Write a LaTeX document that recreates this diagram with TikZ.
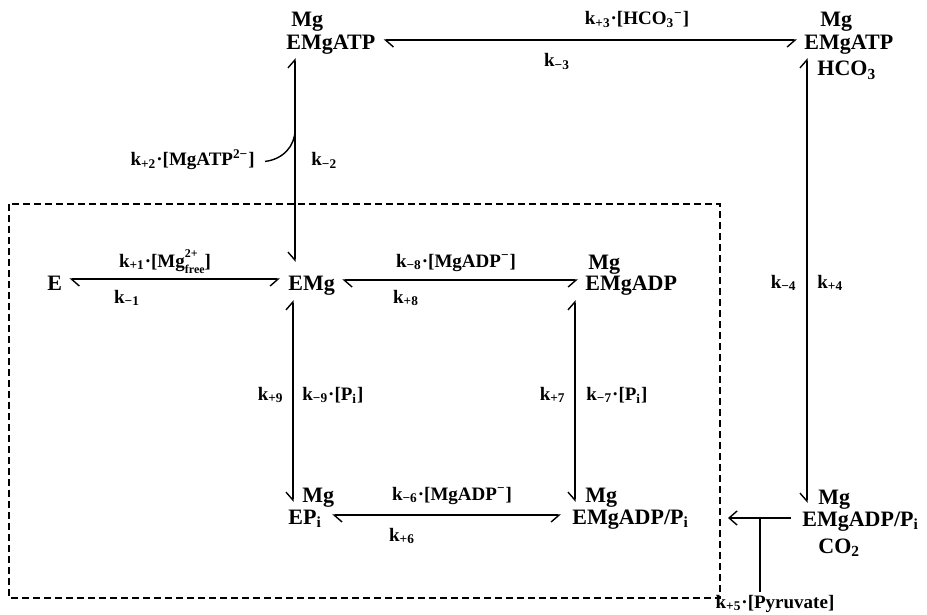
\documentclass[tikz,border=0pt]{standalone}
\usepackage{fontspec}
\setmainfont{Liberation Serif}
\usetikzlibrary{arrows.meta, positioning}

\newcommand{\kr}[1]{k\textsubscript{#1}}
\newcommand{\Pii}{P\textsubscript{i}}
\newcommand{\freemg}{Mg\rlap{\raisebox{1.05ex}{\fontsize{6}{6}\selectfont 2+}}\raisebox{-0.75ex}{\fontsize{6}{6}\selectfont free}}

\begin{document}
\begin{tikzpicture}[
        x=0.5pt, y=-0.5pt,
        every node/.style={inner sep=1pt},
        species/.style={anchor=base west, font=\fontsize{11}{12}\selectfont\bfseries},
        rate/.style={anchor=base, font=\fontsize{9.5}{11}\selectfont\bfseries},
        rxn/.style={{Straight Barb[harpoon,length=4pt,width=7pt]}-{Straight Barb[harpoon,swap,length=4pt,width=7pt]}, line width=0.7pt},
        oneway/.style={-{Straight Barb[length=4pt,width=7pt]}, line width=0.7pt}
    ]
    \useasboundingbox (0,0) rectangle (927,615);

    % the part measured separately
    \draw[line width=1.1pt, dash pattern=on 3.5pt off 2pt] (9,204) rectangle (720,598);

    % species
    \node[species] (atp) at (284,50) {EMgATP};
    \node[species] (atpmg) at (289,27) {Mg};
    \node[species] (atph) at (802,50) {EMgATP};
    \node[species] (atphmg) at (818,27) {Mg};
    \node[species] (atphco) at (815,76) {HCO\textsubscript{3}};
    \node[species] (e) at (45,290) {E};
    \node[species] (emg) at (286,290) {EMg};
    \node[species] (adp) at (583,290) {EMgADP};
    \node[species] (adpmg) at (586,269) {Mg};
    \node[species] (epi) at (286,524) {E\Pii};
    \node[species] (epimg) at (300,502) {Mg};
    \node[species] (adppi) at (570,524) {EMgADP/\Pii};
    \node[species] (adppimg) at (583,502) {Mg};
    \node[species] (adpco) at (800,526) {EMgADP/\Pii};
    \node[species] (adpcomg) at (816,504) {Mg};
    \node[species] (adpcoco) at (816,553) {CO\textsubscript{2}};

    % rate constants
    \node[rate] (k3p) at (637,25) {\kr{+3}·[HCO\textsubscript{3}\textsuperscript{−}]};
    \node[rate] (k3m) at (557,67) {\kr{−3}};
    \node[rate, anchor=base east] (k2p) at (257,166) {\kr{+2}·[MgATP\textsuperscript{2−}]};
    \node[rate, anchor=base west] (k2m) at (309,166) {\kr{−2}};
    \node[rate] (k1p) at (165,267) {\kr{+1}·[\freemg]};
    \node[rate] (k1m) at (127,303) {\kr{−1}};
    \node[rate] (k8m) at (456,267) {\kr{−8}·[MgADP\textsuperscript{−}]};
    \node[rate] (k8p) at (406,303) {\kr{+8}};
    \node[rate, anchor=base east] (k9p) at (286,400) {\kr{+9}};
    \node[rate, anchor=base west] (k9m) at (300,400) {\kr{−9}·[\Pii]};
    \node[rate, anchor=base east] (k7p) at (568,400) {\kr{+7}};
    \node[rate, anchor=base west] (k7m) at (584,400) {\kr{−7}·[\Pii]};
    \node[rate] (k6m) at (452,500) {\kr{−6}·[MgADP\textsuperscript{−}]};
    \node[rate] (k6p) at (402,541) {\kr{+6}};
    \node[rate, anchor=base east] (k4m) at (799,288) {\kr{−4}};
    \node[rate, anchor=base west] (k4p) at (815,288) {\kr{+4}};
    \node[rate] (k5) at (775,608) {\kr{+5}·[Pyruvate]};

    % reactions
    \draw[rxn] ([shift={(6,-10)}]atp.base east) -- ([shift={(-5,-10)}]atph.base west);
    \draw[rxn] ([shift={(11,8)}]atp.base west) -- ([shift={(9,-28)}]emg.base west);
    \draw[rxn] ([shift={(5,-11)}]e.base east) -- ([shift={(-6,-11)}]emg.base west);
    \draw[rxn] ([shift={(5,-10)}]emg.base east) -- ([shift={(-5,-10)}]adp.base west);
    \draw[rxn] ([shift={(7,10)}]emg.base west) -- ([shift={(7,-22)}]epi.base west);
    \draw[rxn] ([shift={(-8,10)}]adp.base west) -- ([shift={(5,-22)}]adppi.base west);
    \draw[rxn] ([shift={(8,-9)}]epi.base east) -- ([shift={(-9,-9)}]adppi.base west);
    \draw[rxn] ([shift={(5,8)}]atph.base west) -- ([shift={(7,-23)}]adpco.base west);

    % MgATP binding and the pyruvate step
    \coordinate (j2) at (295,130);
    \draw[line width=0.7pt] ([xshift=4pt]k2p.mid east) .. controls +(18,-2) and +(0,16) .. (j2);
    \coordinate (j5) at (760,518);
    \draw[oneway] ([shift={(-9,-8)}]adpco.base west) -- (728,518);
    \draw[line width=0.7pt] (j5) -- (j5 |- k5.north);
\end{tikzpicture}
\end{document}
